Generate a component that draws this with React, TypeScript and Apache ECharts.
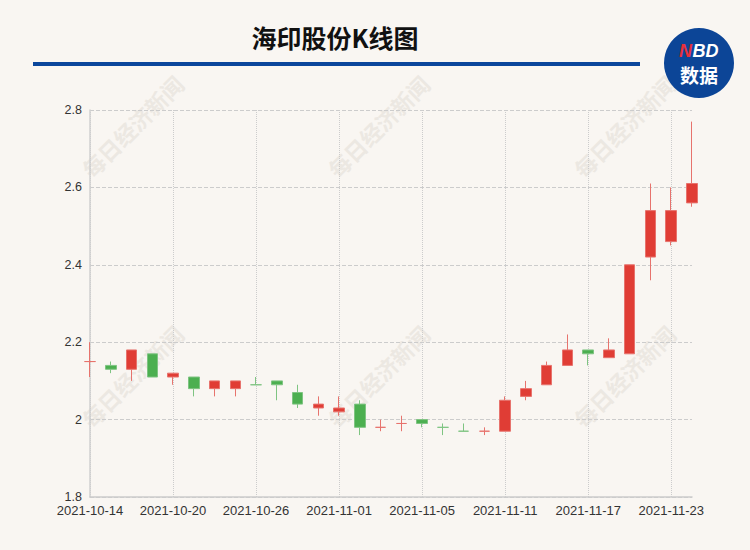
import React, { useEffect, useRef } from 'react';
import * as echarts from 'echarts';

const dates = [
  '2021-10-14', '2021-10-15', '2021-10-18', '2021-10-19', '2021-10-20',
  '2021-10-21', '2021-10-22', '2021-10-25', '2021-10-26', '2021-10-27',
  '2021-10-28', '2021-10-29', '2021-11-01', '2021-11-02', '2021-11-03',
  '2021-11-04', '2021-11-05', '2021-11-08', '2021-11-09', '2021-11-10',
  '2021-11-11', '2021-11-12', '2021-11-15', '2021-11-16', '2021-11-17',
  '2021-11-18', '2021-11-19', '2021-11-22', '2021-11-23', '2021-11-24',
];
const opens = [
  2.15, 2.14, 2.13, 2.17, 2.11, 2.11, 2.08, 2.08, 2.09, 2.10,
  2.07, 2.03, 2.02, 2.04, 1.98, 1.99, 2.00, 1.98, 1.97, 1.97,
  1.97, 2.06, 2.09, 2.14, 2.18, 2.16, 2.17, 2.42, 2.46, 2.56,
];
const closes = [
  2.15, 2.13, 2.18, 2.11, 2.12, 2.08, 2.10, 2.10, 2.09, 2.09,
  2.04, 2.04, 2.03, 1.98, 1.98, 1.99, 1.99, 1.98, 1.97, 1.97,
  2.05, 2.08, 2.14, 2.18, 2.17, 2.18, 2.40, 2.54, 2.54, 2.61,
];
const lows = [
  2.11, 2.12, 2.10, 2.11, 2.09, 2.06, 2.06, 2.06, 2.09, 2.05,
  2.03, 2.01, 2.01, 1.96, 1.97, 1.97, 1.98, 1.96, 1.97, 1.96,
  1.97, 2.05, 2.09, 2.14, 2.14, 2.16, 2.17, 2.36, 2.45, 2.55,
];
const highs = [
  2.20, 2.15, 2.18, 2.17, 2.12, 2.11, 2.10, 2.10, 2.11, 2.10,
  2.09, 2.06, 2.06, 2.05, 2.00, 2.01, 2.00, 1.99, 1.99, 1.98,
  2.06, 2.10, 2.15, 2.22, 2.18, 2.21, 2.40, 2.61, 2.60, 2.77,
];

const titleText = '海印股份K线图';
const watermarkText = '每日经济新闻';
const watermarkXs = [132, 378, 624];
const watermarkYs = [126, 376];

const UP_FILL = '#e03d35';
const DOWN_FILL = '#4caf50';
const UP_LINE = '#e7736d';
const DOWN_LINE = '#7fc482';

export default function App() {
  const ref = useRef<HTMLDivElement>(null);

  useEffect(() => {
    document.body.style.margin = '0';
    const chart = echarts.init(ref.current as HTMLDivElement, undefined, { renderer: 'svg' });
    const data = dates.map((_, i) => {
      const value = [opens[i], closes[i], lows[i], highs[i]];
      if (opens[i] !== closes[i]) return value;
      const up = i === 0 || closes[i - 1] <= closes[i];
      const fill = up ? UP_FILL : DOWN_FILL;
      const line = up ? UP_LINE : DOWN_LINE;
      return {
        value,
        itemStyle: {
          color: fill,
          color0: fill,
          borderColor: line,
          borderColor0: line,
          borderColorDoji: line,
          opacity: 1,
        },
      };
    });

    const watermarks: any[] = [];
    watermarkYs.forEach((y) => {
      watermarkXs.forEach((x) => {
        watermarks.push({
          type: 'text',
          x,
          y,
          rotation: Math.PI / 4,
          z: 0,
          silent: true,
          style: {
            text: watermarkText,
            fill: '#ece8e2',
            font: 'bold 22px "Noto Sans CJK SC"',
            align: 'center',
            verticalAlign: 'middle',
          },
        });
      });
    });

    const option: any = {
      animation: false,
      backgroundColor: '#f9f6f2',
      grid: { left: 90, right: 58, top: 110, bottom: 53, containLabel: false },
      xAxis: {
        type: 'category',
        data: dates,
        boundaryGap: false,
        z: 0,
        axisLine: { show: true, lineStyle: { color: '#cccccc', width: 1.5 } },
        axisTick: { show: false },
        axisLabel: {
          interval: 3,
          color: '#333',
          fontSize: 13,
          fontFamily: 'Liberation Sans',
          margin: 7,
        },
        splitLine: {
          show: true,
          interval: 3,
          lineStyle: { type: 'dotted', color: '#cccccc', width: 1 },
        },
      },
      yAxis: {
        type: 'value',
        min: 1.8,
        max: 2.8,
        interval: 0.2,
        z: 0,
        axisLine: { show: true, lineStyle: { color: '#d0d0d0', width: 1.5 } },
        axisTick: { show: false },
        axisLabel: { color: '#333', fontSize: 12.5, fontFamily: 'Liberation Sans', margin: 8 },
        splitLine: { show: true, lineStyle: { type: 'dashed', color: '#cccccc', width: 1 } },
      },
      graphic: [
        ...watermarks,
        {
          type: 'text',
          x: 335,
          y: 37,
          z: 10,
          style: {
            text: titleText,
            fill: '#111111',
            font: 'bold 25px "Noto Sans CJK SC"',
            align: 'center',
            verticalAlign: 'middle',
          },
        },
        {
          type: 'rect',
          z: 10,
          shape: { x: 33, y: 62, width: 607, height: 4 },
          style: { fill: '#0b479c' },
        },
        {
          type: 'circle',
          z: 10,
          shape: { cx: 699, cy: 63, r: 35 },
          style: { fill: '#0c4597' },
        },
        {
          type: 'text',
          x: 692,
          y: 51,
          z: 11,
          style: {
            text: 'N',
            fill: '#e8303a',
            font: 'italic bold 18px "Liberation Sans"',
            align: 'right',
            verticalAlign: 'middle',
          },
        },
        {
          type: 'text',
          x: 692.5,
          y: 51,
          z: 11,
          style: {
            text: 'BD',
            fill: '#ffffff',
            font: 'italic bold 18px "Liberation Sans"',
            align: 'left',
            verticalAlign: 'middle',
          },
        },
        {
          type: 'text',
          x: 699,
          y: 74,
          z: 11,
          style: {
            text: '数据',
            fill: '#ffffff',
            font: 'bold 19px "Noto Sans CJK SC"',
            align: 'center',
            verticalAlign: 'middle',
          },
        },
      ],
      series: [
        {
          type: 'candlestick',
          data,
          barWidth: 11,
          z: 5,
          clip: false,
          itemStyle: {
            color: UP_FILL,
            color0: DOWN_FILL,
            borderColor: UP_LINE,
            borderColor0: DOWN_LINE,
            borderWidth: 1,
          },
        },
      ],
    };
    chart.setOption(option);
    return () => {
      chart.dispose();
    };
  }, []);

  return <div ref={ref} style={{ width: 750, height: 550 }} />;
}
